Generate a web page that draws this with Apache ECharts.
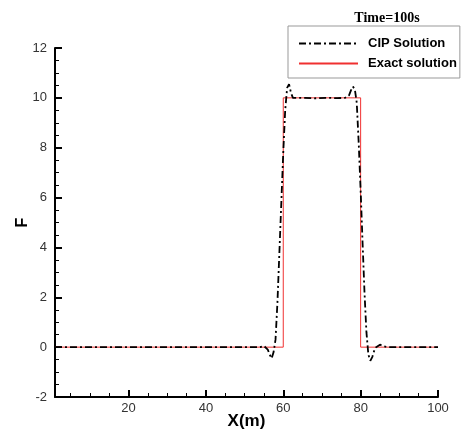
<!DOCTYPE html>
<html>
<head>
<meta charset="utf-8">
<script src="https://cdn.jsdelivr.net/npm/echarts@6/dist/echarts.min.js"></script>
<style>html,body{margin:0;padding:0;background:#fff}#c{width:461px;height:432px}</style>
</head>
<body>
<div id="c"></div>
<script>
var cipX = [1, 50, 54, 55, 55.5, 56, 56.5, 57, 57.5, 58, 58.5, 59, 59.5, 60, 60.5, 61, 61.5, 62, 62.5, 63, 65, 68, 71, 74, 76, 77, 77.5, 78, 78.5, 79, 79.5, 80, 80.5, 81, 81.5, 82, 82.5, 83, 83.5, 84, 85, 86, 87, 100];
var cipY = [0, 0, 0, 0.05, 0.03, -0.1, -0.3, -0.45, -0.2, 0.3, 1.8, 3.8, 5.8, 7.8, 9.5, 10.4, 10.55, 10.2, 10.0, 9.97, 10.0, 9.98, 10.0, 9.99, 10.0, 10.1, 10.3, 10.45, 10.35, 9.8, 8.2, 6.3, 4.2, 2.2, 0.6, -0.3, -0.55, -0.4, -0.15, 0, 0.1, 0.03, 0, 0];
var exactX = [1, 60, 60, 80, 80, 100];
var exactY = [0, 0, 10, 10, 0, 0];
var xMajor = [20, 40, 60, 80, 100];
var xMinor = [5, 10, 15, 25, 30, 35, 45, 50, 55, 65, 70, 75, 85, 90, 95];

function pairs(xs, ys) { return xs.map(function (x, i) { return [x, ys[i]]; }); }

var chart = echarts.init(document.getElementById('c'));
var font = 'Liberation Sans, Arial, sans-serif';
chart.setOption({
  animation: false,
  title: {
    text: 'Time=100s', left: 382, top: 6, textAlign: 'center',
    textStyle: { fontFamily: 'Liberation Serif, Times New Roman, serif', fontWeight: 'bold', fontSize: 14, color: '#000' }
  },
  legend: {
    orient: 'vertical', left: 288, top: 26,
    padding: [11, 3, 8, 10], itemGap: 7, itemWidth: 59, itemHeight: 10,
    borderColor: '#999', borderWidth: 1,
    itemStyle: { opacity: 0 },
    textStyle: { fontFamily: font, fontWeight: 'bold', fontSize: 13, color: '#000', padding: [0, 0, 0, 5] },
    data: ['CIP Solution', 'Exact solution']
  },
  grid: { left: 55, right: 23, top: 48, bottom: 35, outerBoundsMode: 'none', containLabel: false },
  xAxis: [{
    type: 'value', min: 1, max: 100,
    name: 'X(m)', nameLocation: 'middle', nameGap: 16, nameMoveOverlap: false,
    nameTextStyle: { fontFamily: font, fontWeight: 'bold', fontSize: 17, color: '#000', verticalAlign: 'top' },
    axisLine: { onZero: false, lineStyle: { color: '#000', width: 2 } },
    axisTick: { inside: true, length: 7, customValues: xMajor, lineStyle: { color: '#000', width: 2 } },
    axisLabel: { customValues: xMajor, fontFamily: font, fontSize: 13, color: '#333', margin: 5 },
    splitLine: { show: false }
  }, {
    type: 'value', min: 1, max: 100, position: 'bottom',
    axisLine: { show: false, onZero: false },
    axisTick: { inside: true, length: 4, customValues: xMinor, lineStyle: { color: '#000', width: 1 } },
    axisLabel: { show: false },
    splitLine: { show: false }
  }],
  yAxis: {
    type: 'value', min: -2, max: 12, interval: 2,
    name: 'F', nameLocation: 'middle', nameGap: 24, nameRotate: 90, nameMoveOverlap: false,
    nameTextStyle: { fontFamily: font, fontWeight: 'bold', fontSize: 16, color: '#000' },
    axisLine: { show: true, onZero: false, lineStyle: { color: '#000', width: 2 } },
    axisTick: { inside: true, length: 7, lineStyle: { color: '#000', width: 2 } },
    minorTick: { show: true, splitNumber: 4, length: 4, lineStyle: { color: '#000', width: 1 } },
    axisLabel: { fontFamily: font, fontSize: 13, color: '#333', margin: 8 },
    splitLine: { show: false }
  },
  series: [{
    name: 'CIP Solution', type: 'line', showSymbol: false, symbol: 'none',
    data: pairs(cipX, cipY), z: 3, itemStyle: { color: '#000' },
    lineStyle: { color: '#000', width: 1.8, type: [7, 3, 2, 3] }
  }, {
    name: 'Exact solution', type: 'line', showSymbol: false, symbol: 'none',
    data: pairs(exactX, exactY), z: 2, itemStyle: { color: '#f03030' },
    lineStyle: { color: '#f03030', width: 1 }
  }]
});
</script>
</body>
</html>
